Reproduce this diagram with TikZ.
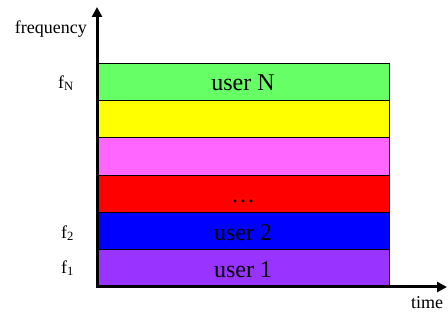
\documentclass[tikz,border=0pt]{standalone}
\usepackage{fontspec}
\setmainfont{Liberation Serif}
\usetikzlibrary{positioning,arrows.meta}

\definecolor{bandgreen}{RGB}{102,255,102}
\definecolor{bandyellow}{RGB}{255,255,0}
\definecolor{bandpink}{RGB}{255,102,255}
\definecolor{bandred}{RGB}{255,0,0}
\definecolor{bandblue}{RGB}{0,0,255}
\definecolor{bandpurple}{RGB}{153,51,255}

\begin{document}
\begin{tikzpicture}[x=1pt, y=-1pt,
band/.style={draw=black, line width=0.8pt, minimum width=292pt, minimum height=37.33pt,
  inner sep=0pt, text height=20pt, text depth=2pt, font=\fontsize{24}{24}\selectfont},
freq/.style={anchor=east, inner sep=0pt, font=\fontsize{18}{18}\selectfont},
axis/.style={line width=3pt, -{Triangle[length=10pt,width=10pt]}}]

\useasboundingbox (0,0) rectangle (448,320);

% frequency bands, bottom to top
\foreach \N/\C/\T [count=\i] in {1/bandpurple/user 1, 2/bandblue/user 2, 3/bandred/\dots,
  4/bandpink/{}, 5/bandyellow/{}, 6/bandgreen/user N}
{
  \node[band, fill=\C] (b\N) at (243, 287+18.67-\i*37.33) {\T};
}

% axes
\coordinate (origin) at (97,287);
\coordinate (ytip) at (97,7);
\coordinate (xtip) at (447,287);
\draw[axis] ([yshift=1.5pt]origin) -- (ytip);
\draw[axis] ([xshift=-1.5pt]origin) -- (xtip);

% captions
\node[freq] (fN) at (74,83) {f\textsubscript{N}};
\node[freq] (f2) at (74,233) {f\textsubscript{2}};
\node[freq] (f1) at (74,268) {f\textsubscript{1}};
\node[freq] (fq) at (87,29) {frequency};
\node[freq, anchor=center] (tm) at (427,303) {time};
\end{tikzpicture}
\end{document}
